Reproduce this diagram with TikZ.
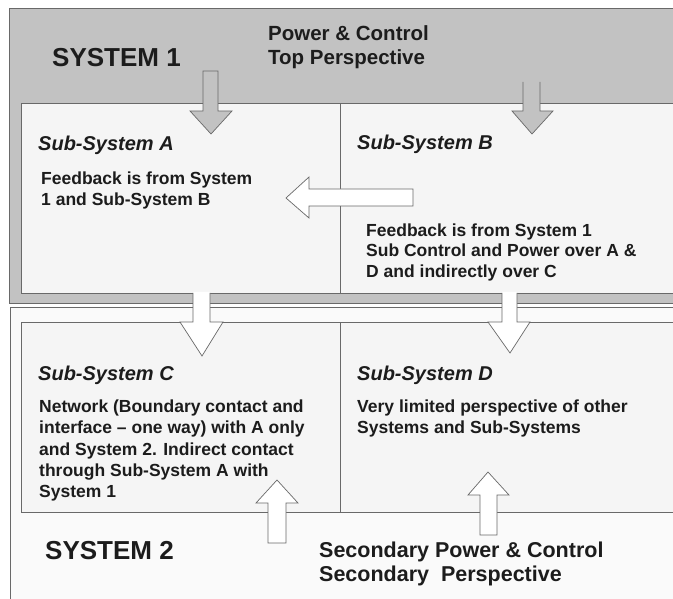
\documentclass[tikz,border=0pt]{standalone}
\usepackage{fontspec}
\setmainfont{Liberation Sans}
\begin{document}
\begin{tikzpicture}[x=1pt,y=-1pt,
  frame/.style={draw=edgegray,line width=0.8pt},
  lbl/.style={inner sep=0pt,anchor=base west,text=ink,font=\bfseries\fontsize{17.5}{21}\selectfont,align=left},
  ttl/.style={inner sep=0pt,anchor=base west,text=ink,font=\bfseries\itshape\fontsize{20}{24}\selectfont},
  big/.style={inner sep=0pt,anchor=base west,text=ink,font=\bfseries\fontsize{26}{30}\selectfont},
  head/.style={inner sep=0pt,anchor=base west,text=ink,font=\bfseries\fontsize{20.5}{24}\selectfont,align=left},
  grayarrow/.style={fill=sysgray,draw=edgegray,line width=0.7pt,line join=miter},
  whitearrow/.style={fill=white,draw=edgegray,line width=0.7pt,line join=miter}]
\definecolor{sysgray}{RGB}{194,194,194}
\definecolor{boxwhite}{RGB}{245,245,245}
\definecolor{edgegray}{RGB}{105,105,105}
\definecolor{ink}{RGB}{28,28,28}
\useasboundingbox (0,0) rectangle (673,599);
\fill[white] (0,0) rectangle (673,599);

% System 1 band and its sub-systems
\filldraw[frame,fill=sysgray] (9,8) rectangle (690,303);
\filldraw[frame,fill=boxwhite] (21,103) rectangle (340,293);
\filldraw[frame,fill=boxwhite] (340,103) rectangle (690,293);

% System 2 band and its sub-systems
\filldraw[frame,fill=white!98!black] (10,307) rectangle (690,620);
\filldraw[frame,fill=boxwhite] (21,322) rectangle (340,512);
\filldraw[frame,fill=boxwhite] (340,322) rectangle (690,512);

% Top-down power arrows from System 1
\filldraw[grayarrow] (203,71) -- (218,71) -- (218,111) -- (232,111) -- (211,134)
  -- (190,111) -- (203,111) -- cycle;
\fill[sysgray] (523,82) -- (540,82) -- (540,111) -- (553,111) -- (532,134)
  -- (512,111) -- (523,111) -- cycle;
\draw[grayarrow,fill=none] (523,82) -- (523,111) -- (512,111) -- (532,134)
  -- (553,111) -- (540,111) -- (540,82);

% Feedback from B to A
\filldraw[whitearrow] (413,189) -- (413,206) -- (309,206) -- (309,218) -- (286,198)
  -- (309,177) -- (309,189) -- cycle;

% Downward arrows into System 2
\fill[white] (193,292) -- (210,292) -- (210,322) -- (223,322) -- (202,356)
  -- (180,322) -- (193,322) -- cycle;
\draw[whitearrow,fill=none] (193,293) -- (193,322) -- (180,322) -- (202,356)
  -- (223,322) -- (210,322) -- (210,293);
\fill[white] (502,292) -- (517,292) -- (517,322) -- (530,322) -- (510,353)
  -- (488,322) -- (502,322) -- cycle;
\draw[whitearrow,fill=none] (502,293) -- (502,322) -- (488,322) -- (510,353)
  -- (530,322) -- (517,322) -- (517,293);

% Upward arrows from System 2
\filldraw[whitearrow] (268,543) -- (286,543) -- (286,503) -- (298,503) -- (277,480)
  -- (256,503) -- (268,503) -- cycle;
\filldraw[whitearrow] (480,535) -- (497,535) -- (497,495) -- (509,495) -- (488,472)
  -- (468,495) -- (480,495) -- cycle;

% Labels
\node[big] (sys1) at (52,67) {SYSTEM 1};
\node[head] (top1) at (268,41) {Power \& Control};
\node[head] (top2) at (268,65) {Top Perspective};

\node[ttl] (ta) at (38,151) {Sub-System A};
\node[lbl] (fa1) at (41,185) {Feedback is from System};
\node[lbl] (fa2) at (41,206) {1 and Sub-System B};

\node[ttl] (tb) at (357,150) {Sub-System B};
\node[lbl] (fb1) at (366,237) {Feedback is from System 1};
\node[lbl] (fb2) at (366,257) {Sub Control and Power over A \&};
\node[lbl] (fb3) at (366,278) {D and indirectly over C};

\node[ttl] (tc) at (38,380) {Sub-System C};
\node[lbl] (fc1) at (39,412) {Network (Boundary contact and};
\node[lbl] (fc2) at (39,433) {interface -- one way) with A only};
\node[lbl] (fc3) at (39,455) {and System 2. Indirect contact};
\node[lbl] (fc4) at (39,476) {through Sub-System A with};
\node[lbl] (fc5) at (39,497) {System 1};

\node[ttl] (td) at (357,380) {Sub-System D};
\node[lbl] (fd1) at (357,412) {Very limited perspective of other};
\node[lbl] (fd2) at (357,433) {Systems and Sub-Systems};

\node[big] (sys2) at (45,559) {SYSTEM 2};
\node[head,font=\bfseries\fontsize{21.5}{25}\selectfont] (bot1) at (319,557) {Secondary Power \& Control};
\node[head,font=\bfseries\fontsize{21.5}{25}\selectfont] (bot2) at (319,581) {Secondary\ \ Perspective};
\end{tikzpicture}
\end{document}
